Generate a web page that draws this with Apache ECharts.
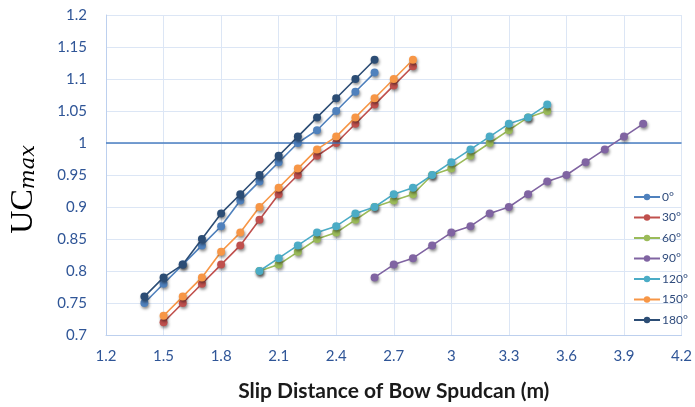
<!DOCTYPE html>
<html><head><meta charset="utf-8">
<script src="https://cdn.jsdelivr.net/npm/echarts@6/dist/echarts.min.js"></script>
<style>html,body{margin:0;padding:0;background:#fff}#c{width:695px;height:407px}</style>
</head><body><div id="c"></div>
<script>
const seriesNames = ['0°','30°','60°','90°','120°','150°','180°'];
const colors = ['#4F81BD','#C0504D','#9BBB59','#8064A2','#4BACC6','#F79646','#2C4D75'];
const x0 = [1.4,1.5,1.6,1.7,1.8,1.9,2.0,2.1,2.2,2.3,2.4,2.5,2.6];
const y0 = [0.75,0.78,0.81,0.84,0.87,0.91,0.94,0.97,1.00,1.02,1.05,1.08,1.11];
const x30 = [1.5,1.6,1.7,1.8,1.9,2.0,2.1,2.2,2.3,2.4,2.5,2.6,2.7,2.8];
const y30 = [0.72,0.75,0.78,0.81,0.84,0.88,0.92,0.95,0.98,1.00,1.03,1.06,1.09,1.12];
const x60 = [2.0,2.1,2.2,2.3,2.4,2.5,2.6,2.7,2.8,2.9,3.0,3.1,3.2,3.3,3.4,3.5];
const y60 = [0.80,0.81,0.83,0.85,0.86,0.88,0.90,0.91,0.92,0.95,0.96,0.98,1.00,1.02,1.04,1.05];
const x90 = [2.6,2.7,2.8,2.9,3.0,3.1,3.2,3.3,3.4,3.5,3.6,3.7,3.8,3.9,4.0];
const y90 = [0.79,0.81,0.82,0.84,0.86,0.87,0.89,0.90,0.92,0.94,0.95,0.97,0.99,1.01,1.03];
const x120 = [2.0,2.1,2.2,2.3,2.4,2.5,2.6,2.7,2.8,2.9,3.0,3.1,3.2,3.3,3.4,3.5];
const y120 = [0.80,0.82,0.84,0.86,0.87,0.89,0.90,0.92,0.93,0.95,0.97,0.99,1.01,1.03,1.04,1.06];
const x150 = [1.5,1.6,1.7,1.8,1.9,2.0,2.1,2.2,2.3,2.4,2.5,2.6,2.7,2.8];
const y150 = [0.73,0.76,0.79,0.83,0.86,0.90,0.93,0.96,0.99,1.01,1.04,1.07,1.10,1.13];
const x180 = [1.4,1.5,1.6,1.7,1.8,1.9,2.0,2.1,2.2,2.3,2.4,2.5,2.6];
const y180 = [0.76,0.79,0.81,0.85,0.89,0.92,0.95,0.98,1.01,1.04,1.07,1.10,1.13];
const xs = [x0,x30,x60,x90,x120,x150,x180];
const ys = [y0,y30,y60,y90,y120,y150,y180];
const refLine = 1.0;
const xTitle = 'Slip Distance of Bow Spudcan (m)';

const chart = echarts.init(document.getElementById('c'), null, {renderer:'canvas'});
const labelColor = '#2F5597';
const fmt = v => String(parseFloat(v.toFixed(2)));
const series = seriesNames.map((n,i)=>({
  name:n, type:'line', data: xs[i].map((x,j)=>[x, ys[i][j]]),
  symbol:'circle', symbolSize:8, z: 3+i,
  lineStyle:{color:colors[i], width:1.6},
  itemStyle:{color:colors[i], shadowBlur:3, shadowColor:'rgba(0,0,0,0.45)', shadowOffsetY:2, shadowOffsetX:1},
  emphasis:{disabled:true}, animation:false
}));
series[0].markLine = {
  silent:true, symbol:['none','none'], animation:false,
  label:{show:false},
  lineStyle:{color:'#4A7EC0', width:1.6, type:'solid'},
  data:[{yAxis:refLine}]
};
chart.setOption({
  animation:false,
  backgroundColor:'#fff',
  grid:{left:106, right:10, top:15, bottom:70, containLabel:false},
  xAxis:{type:'value', min:1.2, max:4.2, interval:0.3,
    axisLine:{show:true, lineStyle:{color:'#BDD0EE', width:1}},
    axisTick:{show:false},
    splitLine:{show:true, lineStyle:{color:'#DCE6F5', width:1}},
    axisLabel:{color:labelColor, fontSize:15, fontFamily:'Lato', margin:14, formatter:fmt},
    name:xTitle, nameLocation:'middle', nameGap:46,
    nameTextStyle:{color:'#1a1a1a', fontSize:21, fontWeight:'bold', fontFamily:'Lato'}
  },
  yAxis:{type:'value', min:0.7, max:1.2, interval:0.05,
    axisLine:{show:true, lineStyle:{color:'#BDD0EE', width:1}},
    axisTick:{show:false},
    splitLine:{show:true, lineStyle:{color:'#DCE6F5', width:1}},
    axisLabel:{color:labelColor, fontSize:15, fontFamily:'Lato', margin:19, formatter:fmt}
  },
  legend:{orient:'vertical', left:628, top:186, itemGap:8.5, itemWidth:26, itemHeight:8,
    textStyle:{color:'#2F4B7C', fontSize:12, fontFamily:'Lato', padding:[0,0,0,-3]},
    data:seriesNames},
  graphic:[{type:'text', left:8, top:145, rotation:Math.PI/2, originX:0, originY:0,
    style:{rich:{a:{fontFamily:'Liberation Serif', fontSize:32, fill:'#000'},
                 b:{fontFamily:'DejaVu Serif', fontStyle:'italic', fontSize:21, fill:'#000', padding:[10,0,0,0]}},
           text:'{a|UC}{b|max}'}}],
  series
});
</script></body></html>
